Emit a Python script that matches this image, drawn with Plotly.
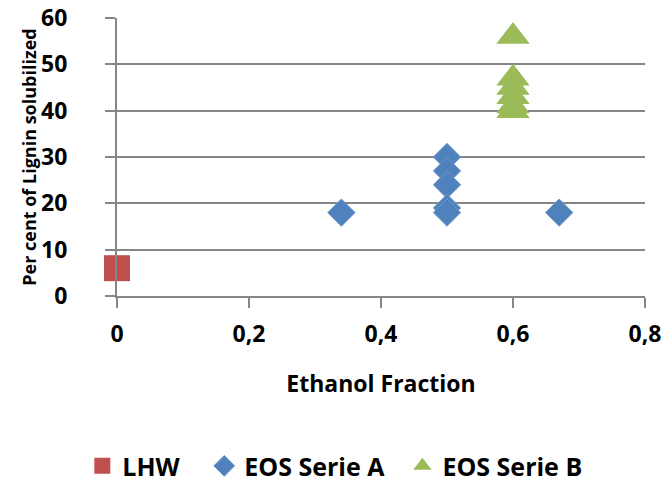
import plotly.graph_objects as go

lhw_x = [0.0]
lhw_y = [6]
serie_a_x = [0.34, 0.5, 0.5, 0.5, 0.5, 0.5, 0.67]
serie_a_y = [18, 30, 27, 24, 19, 18, 18]
serie_b_x = [0.6, 0.6, 0.6, 0.6, 0.6, 0.6]
serie_b_y = [56, 47, 45, 43, 41, 40]

x_ticks = [0, 0.2, 0.4, 0.6, 0.8]
x_labels = ["0", "0,2", "0,4", "0,6", "0,8"]
y_ticks = [0, 10, 20, 30, 40, 50, 60]

NB = "\u00a0"
FONT = "Open Sans"
fig = go.Figure()
fig.add_trace(go.Scatter(x=lhw_x, y=lhw_y, mode="markers", name="LHW" + NB * 3,
                         marker=dict(symbol="square", size=26, color="#C0504D")))
fig.add_trace(go.Scatter(x=serie_a_x, y=serie_a_y, mode="markers", name="EOS Serie A" + NB * 2,
                         marker=dict(symbol="diamond", size=21, color="#4F81BD",
                                     line=dict(width=1, color="#6d97c9"))))
fig.add_trace(go.Scatter(x=serie_b_x, y=serie_b_y, mode="markers", name="EOS Serie B",
                         marker=dict(symbol="triangle-up", size=29, color="#9BBB59")))

fig.update_layout(
    width=667, height=482,
    margin=dict(l=117, r=22, t=18, b=186),
    paper_bgcolor="white", plot_bgcolor="white",
    font=dict(family=FONT, size=22, color="black"),
    showlegend=True,
    legend=dict(orientation="h", xref="container", yref="container",
                x=0.502, xanchor="center", y=0.033, yanchor="middle",
                font=dict(family=FONT, size=25, color="black", weight="bold"),
                itemsizing="trace", traceorder="normal", tracegroupgap=0),
    xaxis=dict(range=[0, 0.8], tickvals=x_ticks, ticktext=x_labels, automargin=False,
               showgrid=False, zeroline=False, showline=True, linecolor="#868686", linewidth=2,
               ticks="outside", ticklen=10, tickwidth=2, tickcolor="#868686",
               ticklabelstandoff=6, ticklabeloverflow="allow",
               tickfont=dict(family=FONT, size=23, weight="bold"),
               title=dict(text="Ethanol Fraction", font=dict(family=FONT, size=23, weight="bold"),
                          standoff=28)),
    yaxis=dict(range=[0, 60], tickvals=y_ticks, automargin=False,
               showgrid=True, gridcolor="#868686", gridwidth=2,
               zeroline=False, showline=True, linecolor="#868686", linewidth=2,
               ticks="outside", ticklen=10, tickwidth=2, tickcolor="#868686",
               ticklabelstandoff=33, ticklabeloverflow="allow",
               tickfont=dict(family=FONT, size=23, weight="bold"),
               title=dict(text="Per cent of Lignin solubilized", font=dict(family=FONT, size=18, weight="bold"),
                          standoff=0)),
)
fig.update_traces(cliponaxis=False)
# remove the browser's default 8px body margin so the 667x482 figure fills the window exactly
fig.write_html("out.html", config={"displayModeBar": False},
               post_script="document.body.style.margin='0';")
